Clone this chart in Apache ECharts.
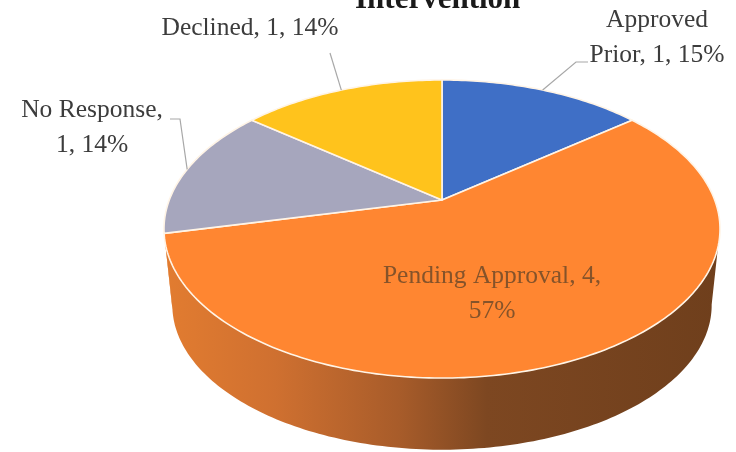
<!DOCTYPE html>
<html>
<head>
<meta charset="utf-8">
<style>
  html, body { margin: 0; padding: 0; background: #fff; }
  #chart { width: 736px; height: 452px; }
</style>
<script src="https://cdn.jsdelivr.net/npm/echarts@6/dist/echarts.min.js"></script>
</head>
<body>
<div id="chart"></div>
<script>
// data
const titleText = 'Intervention'
const categories = ['Approved Prior', 'Pending Approval', 'No Response', 'Declined']
const counts = [1, 4, 1, 1]
const percents = [15, 57, 14, 14]

// colours per slice
const faceColors = ['#3f6fc6', '#ff8631', '#a6a6bd', '#ffc31c']
const rimColor = '#fff4e6'

// label wrapping, same order as categories
function labelText(i, count) {
  const pct = percents[i] + '%'
  if (i === 0) return 'Approved\nPrior, ' + count + ', ' + pct
  if (i === 1) return categories[1] + ', ' + count + ',\n' + pct
  if (i === 2) return categories[2] + ',\n' + count + ', ' + pct
  return categories[3] + ', ' + count + ', ' + pct
}
const labelPos = [[657, 38], [492, 294], [92, 128], [250, 28]]
const labelColor = ['#3c3c3c', '#85532a', '#3c3c3c', '#3c3c3c']
// leader elbows: from the rim to these two points
const leaders = [
  [[576, 62], [588, 62]],
  null,
  [[180, 119], [170, 119]],
  [[330, 53], [330, 53]]
]

// perspective disc
const cx = 442, cy = 200, halfW = 272.7, halfH = 143.4, persp = 0.1946
// lower disc of the wall
const wallScale = 0.97, wallCy = 277

function project(deg, centerY, scale) {
  const a = deg * Math.PI / 180
  const X = Math.sin(a), Y = -Math.cos(a)
  const w = 1 - persp * Y
  return [cx + scale * halfW * X / w, centerY + scale * halfH * Y / w]
}

function arc(from, to, centerY, scale) {
  const pts = []
  const n = Math.max(2, Math.ceil(Math.abs(to - from)))
  for (let i = 0; i <= n; i++) {
    pts.push(project(from + (to - from) * i / n, centerY, scale))
  }
  return pts
}

const total = counts.reduce((a, b) => a + b, 0)
function sliceRange(i) {
  let sum = 0
  for (let k = 0; k < i; k++) sum += counts[k]
  return [sum / total * 360, (sum + counts[i]) / total * 360]
}

// wall only shows between the two silhouette tangents
const wallFrom = 101, wallTo = 259
const wallFill = new echarts.graphic.LinearGradient(165, 0, 720, 0, [
  { offset: 0, color: '#e27c30' },
  { offset: 0.2, color: '#cf7030' },
  { offset: 0.42, color: '#a85c2a' },
  { offset: 0.58, color: '#7d4721' },
  { offset: 1, color: '#6f3f1c' }
], true)

const seriesData = counts.map((v, i) => [i, v])

const option = {
  animation: false,
  backgroundColor: '#fff',
  title: {
    text: titleText,
    left: 350,
    top: -21,
    textStyle: { fontFamily: 'Liberation Serif', fontSize: 31, fontWeight: 'bold', color: '#1a1a1a' }
  },
  series: [
    {
      type: 'custom',
      coordinateSystem: 'none',
      data: seriesData,
      silent: true,
      renderItem(params, api) {
        const r = sliceRange(api.value(0))
        const from = Math.max(r[0], wallFrom), to = Math.min(r[1], wallTo)
        if (from >= to) return null
        const points = arc(from, to, cy, 1).concat(arc(to, from, wallCy, wallScale))
        return { type: 'polygon', shape: { points }, style: { fill: wallFill } }
      }
    },
    {
      type: 'custom',
      coordinateSystem: 'none',
      data: seriesData,
      silent: true,
      renderItem(params, api) {
        const i = api.value(0)
        const r = sliceRange(i)
        const points = [[cx, cy]].concat(arc(r[0], r[1], cy, 1))
        return {
          type: 'polygon',
          shape: { points },
          style: { fill: faceColors[i], stroke: rimColor, lineWidth: 1.6, lineJoin: 'round' }
        }
      }
    },
    {
      type: 'custom',
      coordinateSystem: 'none',
      data: seriesData,
      silent: true,
      renderItem(params, api) {
        const i = api.value(0)
        const r = sliceRange(i)
        const children = []
        if (leaders[i]) {
          children.push({
            type: 'polyline',
            shape: { points: [project((r[0] + r[1]) / 2, cy, 1)].concat(leaders[i]) },
            style: { fill: null, stroke: '#a8a8a8', lineWidth: 1.2 }
          })
        }
        children.push({
          type: 'text',
          style: {
            x: labelPos[i][0],
            y: labelPos[i][1],
            text: labelText(i, api.value(1)),
            fill: labelColor[i],
            font: '25.5px "Liberation Serif"',
            lineHeight: 35,
            align: 'center',
            verticalAlign: 'middle'
          }
        })
        return { type: 'group', children }
      }
    }
  ]
}

const chart = echarts.init(document.getElementById('chart'), null, { renderer: 'canvas' })
chart.setOption(option)
</script>
</body>
</html>
